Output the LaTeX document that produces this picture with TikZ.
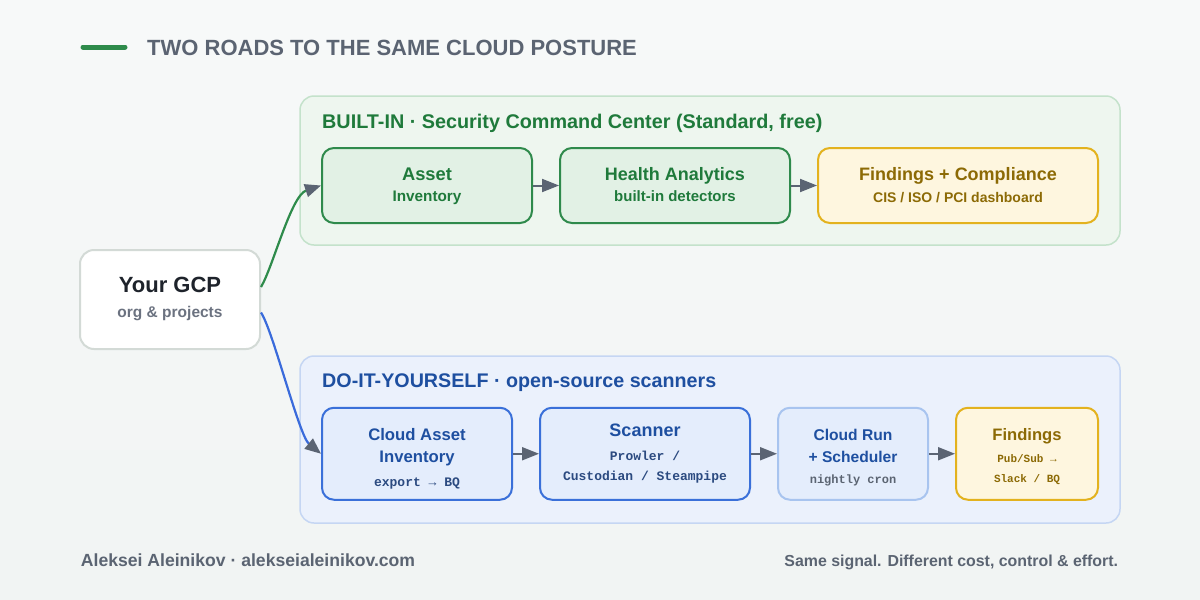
\documentclass[tikz,border=0pt]{standalone}
\usepackage{fontspec}
\setmainfont{Liberation Sans}
\setmonofont{Liberation Mono}
\usetikzlibrary{arrows.meta}
\definecolor{bgtop}{HTML}{F7F9F9}
\definecolor{bgbot}{HTML}{F1F4F3}
\definecolor{accent}{HTML}{2E8B4B}
\definecolor{slate}{HTML}{5B6472}
\definecolor{gcont}{HTML}{EEF6EF}
\definecolor{gcontb}{HTML}{C4E2CB}
\definecolor{gfill}{HTML}{E2F1E5}
\definecolor{gline}{HTML}{2F8A4C}
\definecolor{gtext}{HTML}{1F7A3B}
\definecolor{yfill}{HTML}{FEF6DF}
\definecolor{yline}{HTML}{E3B21E}
\definecolor{ytext}{HTML}{8C6A05}
\definecolor{wline}{HTML}{D3DAD6}
\definecolor{dark}{HTML}{1E232B}
\definecolor{subgray}{HTML}{6B7280}
\definecolor{bcont}{HTML}{EBF1FC}
\definecolor{bcontb}{HTML}{C5D6F3}
\definecolor{bfill}{HTML}{E4EDFC}
\definecolor{bline}{HTML}{3A70D9}
\definecolor{blight}{HTML}{A8C4EF}
\definecolor{btext}{HTML}{1E4FA0}
\definecolor{bmono}{HTML}{2B4A80}
\definecolor{arrowc}{HTML}{5B6473}
\definecolor{bcurve}{HTML}{3A6BDB}
\newcommand\fsz[1]{\fontsize{#1}{#1}\selectfont}
\tikzset{
  cont/.style={rounded corners=14pt, line width=1.5pt, inner sep=0pt},
  box/.style={rounded corners=12pt, line width=2pt, inner sep=0pt},
  gbox/.style={box, fill=gfill, draw=gline},
  ybox/.style={box, fill=yfill, draw=yline},
  bbox/.style={box, fill=bfill, draw=bline},
  lbox/.style={box, fill=bfill, draw=blight},
  txt/.style={anchor=base, inner sep=0pt, font=\bfseries},
  mono/.style={anchor=base, inner sep=0pt, font=\ttfamily\bfseries},
  arr/.style={draw=arrowc, line width=2pt, -{Triangle[length=17pt,width=13pt]}},
  curve/.style={line width=2.2pt, -{Triangle[length=16pt,width=13pt,color=arrowc]}},
}
\begin{document}
\begin{tikzpicture}[x=1pt,y=-1pt]
\useasboundingbox (0,0) rectangle (1200,600);
\shade[top color=bgtop, bottom color=bgbot] (0,0) rectangle (1200,600);

% title
\draw[accent, line width=5pt, line cap=round] (83,47) -- (125,47);
\node[txt, anchor=base west, text=slate, font=\bfseries\fsz{22}] (title) at (147,55) {TWO ROADS TO THE SAME CLOUD POSTURE};

% containers
\node[cont, fill=gcont, draw=gcontb, minimum width=820pt, minimum height=149pt] (builtin) at (710,170.5) {};
\node[txt, anchor=base west, text=gtext, font=\bfseries\fsz{19.8}] (builtin-t) at (322,128.3) {BUILT-IN · Security Command Center (Standard, free)};

\node[cont, fill=bcont, draw=bcontb, minimum width=820pt, minimum height=167pt] (diy) at (710,439.5) {};
\node[txt, anchor=base west, text=btext, font=\bfseries\fsz{19.7}] (diy-t) at (322,387.7) {DO-IT-YOURSELF · open-source scanners};

% GCP
\node[rounded corners=14pt, line width=2pt, fill=white, draw=wline, minimum width=180pt, minimum height=99pt] (gcp) at (170,299.5) {};
\node[txt, text=dark, font=\bfseries\fsz{22}] (gcp-a) at (170,292) {Your GCP};
\node[txt, text=subgray, font=\bfseries\fsz{15.5}] (gcp-b) at (170,317.7) {org \& projects};

% built-in row
\node[gbox, minimum width=210pt, minimum height=75pt] (asset) at (427,185.5) {};
\node[txt, text=gtext, font=\bfseries\fsz{18.3}] (asset-a) at (427,180) {Asset};
\node[txt, text=gtext, font=\bfseries\fsz{15.3}] (asset-b) at (427,201.7) {Inventory};

\node[gbox, minimum width=230pt, minimum height=75pt] (health) at (675,185.5) {};
\node[txt, text=gtext, font=\bfseries\fsz{18}] (health-a) at (675,180) {Health Analytics};
\node[txt, text=gtext, font=\bfseries\fsz{15}] (health-b) at (675,201.7) {built-in detectors};

\node[ybox, minimum width=280pt, minimum height=75pt] (comp) at (958,185.5) {};
\node[txt, text=ytext, font=\bfseries\fsz{18}] (comp-a) at (958,180) {Findings + Compliance};
\node[txt, text=ytext, font=\bfseries\fsz{14}] (comp-b) at (958,202) {CIS / ISO / PCI dashboard};

% DIY row
\node[bbox, minimum width=190pt, minimum height=92pt] (cai) at (417,453.75) {};
\node[txt, text=btext, font=\bfseries\fsz{16.7}] (cai-a) at (417,440) {Cloud Asset};
\node[txt, text=btext, font=\bfseries\fsz{16.7}] (cai-b) at (417,462.3) {Inventory};
\node[mono, text=bmono, font=\ttfamily\bfseries\fsz{13}] (cai-c) at (417,486.7) {export → BQ};

\node[bbox, minimum width=210pt, minimum height=92pt] (scan) at (645,453.75) {};
\node[txt, text=btext, font=\bfseries\fsz{18}] (scan-a) at (645,436.7) {Scanner};
\node[mono, text=bmono, font=\ttfamily\bfseries\fsz{13}] (scan-b) at (645,460) {Prowler /};
\node[mono, text=bmono, font=\ttfamily\bfseries\fsz{13}] (scan-c) at (645,480) {Custodian / Steampipe};

\node[lbox, minimum width=150pt, minimum height=92pt] (run) at (853,453.75) {};
\node[txt, text=btext, font=\bfseries\fsz{15.6}] (run-a) at (853,440) {Cloud Run};
\node[txt, text=btext, font=\bfseries\fsz{15.6}] (run-b) at (853,462.3) {+ Scheduler};
\node[mono, text=slate, font=\ttfamily\bfseries\fsz{12}] (run-c) at (853,483.3) {nightly cron};

\node[ybox, minimum width=142pt, minimum height=92pt] (find) at (1027,453.75) {};
\node[txt, text=ytext, font=\bfseries\fsz{16.6}] (find-a) at (1027,440.7) {Findings};
\node[mono, text=ytext, font=\ttfamily\bfseries\fsz{11}] (find-b) at (1027,462.3) {Pub/Sub →};
\node[mono, text=ytext, font=\ttfamily\bfseries\fsz{11}] (find-c) at (1027,482.3) {Slack / BQ};

% arrows
\draw[arr] (asset.east) -- (health.west);
\draw[arr] (health.east) -- (comp.west);
\draw[arr] (cai.east) -- (scan.west);
\draw[arr] (scan.east) -- (run.west);
\draw[arr] (run.east) -- (find.west);

% curves
\draw[curve, draw=accent] ([yshift=12.5pt]gcp.east) .. controls +(12,-20) and +(-30,10) .. (asset.west);
\draw[curve, draw=bcurve] ([yshift=-13pt]gcp.east) .. controls +(12,18) and +(-22,-18) .. (cai.west);

% footer
\node[txt, anchor=base west, text=slate, font=\bfseries\fsz{17.6}] (foot-l) at (80.7,566.7) {Aleksei Aleinikov · alekseialeinikov.com};
\node[txt, anchor=base east, text=slate, font=\bfseries\fsz{15.9}] (foot-r) at (1118.3,566.7) {Same signal. Different cost, control \& effort.};
\end{tikzpicture}
\end{document}
